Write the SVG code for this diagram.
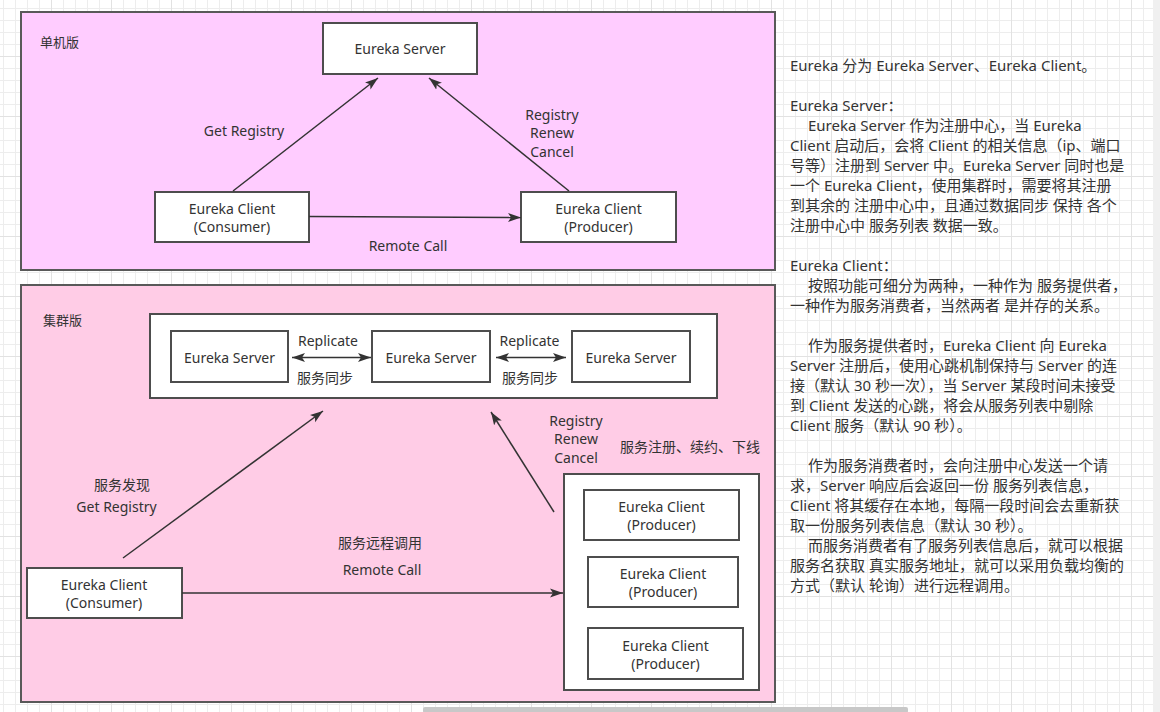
<svg xmlns="http://www.w3.org/2000/svg" width="1160" height="712" viewBox="0 0 1160 712">
<defs>
<pattern id="gridMinor" patternUnits="userSpaceOnUse" x="0" y="0" width="12" height="12">
<path d="M3.5,0 V12 M0,8.5 H12" stroke="#ededed" stroke-width="1" fill="none"/>
</pattern>
<pattern id="gridMajor" patternUnits="userSpaceOnUse" x="0" y="0" width="60" height="60">
<path d="M51.5,0 V60 M0,56.5 H60" stroke="#e2e2e2" stroke-width="1" fill="none"/>
</pattern>
<marker id="arr" markerUnits="userSpaceOnUse" markerWidth="14" markerHeight="10" viewBox="0 0 14 10" refX="13" refY="5" orient="auto-start-reverse">
<path d="M0,0.5 L13,5 L0,9.5 L3,5 z" fill="#333"/>
</marker>
<style>
.panel{stroke:#595959;stroke-width:2}
.node{fill:#fff;stroke:#4d4d4d;stroke-width:2}
.t{font-family:"Noto Sans","Noto Sans CJK SC",sans-serif;font-size:14px;fill:#333;text-anchor:middle;dominant-baseline:central}
.lbl{font-family:"Noto Sans","Noto Sans CJK SC",sans-serif;font-size:13px;fill:#333;dominant-baseline:central}
.conn{stroke:#333;stroke-width:1.5;fill:none}
.doc{font-family:"Noto Sans","Noto Sans CJK SC",sans-serif;font-size:15px;fill:#333;dominant-baseline:central}
</style>
</defs>
<rect x="0" y="0" width="1160" height="712" fill="#fff"/>
<rect x="0" y="0" width="1160" height="712" fill="url(#gridMinor)"/>
<rect x="0" y="0" width="1160" height="712" fill="url(#gridMajor)"/>
<rect x="1153" y="0" width="7" height="712" fill="#f0f0f0"/>
<rect x="423" y="707" width="485" height="6" rx="2" fill="#c8c8c8"/>

<g id="panel-single">
<rect class="panel" x="21" y="12" width="754" height="258" fill="#ffccff"/>
<text class="lbl" x="40" y="42">单机版</text>
</g>
<g id="panel-cluster">
<rect class="panel" x="21" y="285" width="754" height="417" fill="#ffcce6"/>
<text class="lbl" x="43" y="320">集群版</text>
</g>

<g id="s-server">
<rect class="node" x="323" y="23" width="154" height="51"/>
<text class="t" x="400" y="48.5">Eureka Server</text>
</g>
<g id="s-consumer">
<rect class="node" x="155" y="192" width="154" height="50"/>
<text class="t" x="232" y="208">Eureka Client</text>
<text class="t" x="232" y="226">(Consumer)</text>
</g>
<g id="s-producer">
<rect class="node" x="521" y="192" width="155" height="50"/>
<text class="t" x="598.5" y="208">Eureka Client</text>
<text class="t" x="598.5" y="226">(Producer)</text>
</g>

<g id="c-servers">
<rect class="node" x="150" y="314" width="567" height="84"/>
</g>
<g id="c-server1">
<rect class="node" x="171" y="331" width="117" height="51"/>
<text class="t" x="229.5" y="357">Eureka Server</text>
</g>
<g id="c-server2">
<rect class="node" x="372" y="331" width="118" height="51"/>
<text class="t" x="431" y="357">Eureka Server</text>
</g>
<g id="c-server3">
<rect class="node" x="572" y="331" width="118" height="51"/>
<text class="t" x="631" y="357">Eureka Server</text>
</g>
<g id="c-consumer">
<rect class="node" x="27" y="568" width="155" height="50"/>
<text class="t" x="104" y="584">Eureka Client</text>
<text class="t" x="104" y="602">(Consumer)</text>
</g>
<g id="c-producers">
<rect class="node" x="564" y="474" width="195" height="216"/>
</g>
<g id="c-producer1">
<rect class="node" x="584" y="490" width="155" height="50"/>
<text class="t" x="661.5" y="506">Eureka Client</text>
<text class="t" x="661.5" y="524">(Producer)</text>
</g>
<g id="c-producer2">
<rect class="node" x="588" y="557" width="150" height="50"/>
<text class="t" x="663" y="573">Eureka Client</text>
<text class="t" x="663" y="591">(Producer)</text>
</g>
<g id="c-producer3">
<rect class="node" x="588" y="628" width="155" height="51"/>
<text class="t" x="665.5" y="645">Eureka Client</text>
<text class="t" x="665.5" y="663">(Producer)</text>
</g>

<g id="connectors">
<line class="conn" x1="233" y1="191" x2="378" y2="78" marker-end="url(#arr)"/>
<line class="conn" x1="569" y1="191" x2="429" y2="78" marker-end="url(#arr)"/>
<line class="conn" x1="309" y1="216.5" x2="521" y2="217.5" marker-end="url(#arr)"/>
<line class="conn" x1="292" y1="357.5" x2="371" y2="357.5" marker-start="url(#arr)" marker-end="url(#arr)"/>
<line class="conn" x1="496" y1="357.5" x2="566" y2="357.5" marker-start="url(#arr)" marker-end="url(#arr)"/>
<line class="conn" x1="123" y1="558" x2="323" y2="411" marker-end="url(#arr)"/>
<line class="conn" x1="554" y1="512" x2="491" y2="412" marker-end="url(#arr)"/>
<line class="conn" x1="182" y1="593" x2="563" y2="593" marker-end="url(#arr)"/>
<text class="t" x="244" y="130">Get Registry</text>
<text class="t" x="552" y="114">Registry</text>
<text class="t" x="552" y="132.5">Renew</text>
<text class="t" x="552" y="151">Cancel</text>
<text class="t" x="408" y="245">Remote Call</text>
<text class="t" x="328" y="340">Replicate</text>
<text class="t" x="325" y="377">服务同步</text>
<text class="t" x="529.5" y="340">Replicate</text>
<text class="t" x="530" y="377">服务同步</text>
<text class="t" x="122" y="484">服务发现</text>
<text class="t" x="116.5" y="506">Get Registry</text>
<text class="t" x="380" y="542">服务远程调用</text>
<text class="t" x="382" y="569">Remote Call</text>
<text class="t" x="576" y="420">Registry</text>
<text class="t" x="576" y="438.5">Renew</text>
<text class="t" x="576" y="457">Cancel</text>
<text class="t" x="690" y="446">服务注册、续约、下线</text>
</g>

<g id="description">
<text class="doc" x="790" y="65">Eureka 分为 Eureka Server、Eureka Client。</text>
<text class="doc" x="790" y="105">Eureka Server：</text>
<text class="doc" x="808" y="125">Eureka Server 作为注册中心，当 Eureka</text>
<text class="doc" x="790" y="145">Client 启动后，会将 Client 的相关信息（ip、端口</text>
<text class="doc" x="790" y="165">号等）注册到 Server 中。Eureka Server 同时也是</text>
<text class="doc" x="790" y="185">一个 Eureka Client，使用集群时，需要将其注册</text>
<text class="doc" x="790" y="205">到其余的 注册中心中，且通过数据同步 保持 各个</text>
<text class="doc" x="790" y="225">注册中心中 服务列表 数据一致。</text>
<text class="doc" x="790" y="265">Eureka Client：</text>
<text class="doc" x="808" y="285">按照功能可细分为两种，一种作为 服务提供者，</text>
<text class="doc" x="790" y="305">一种作为服务消费者，当然两者 是并存的关系。</text>
<text class="doc" x="808" y="345">作为服务提供者时，Eureka Client 向 Eureka</text>
<text class="doc" x="790" y="365">Server 注册后，使用心跳机制保持与 Server 的连</text>
<text class="doc" x="790" y="385">接（默认 30 秒一次），当 Server 某段时间未接受</text>
<text class="doc" x="790" y="405">到 Client 发送的心跳，将会从服务列表中剔除</text>
<text class="doc" x="790" y="425">Client 服务（默认 90 秒）。</text>
<text class="doc" x="808" y="465">作为服务消费者时，会向注册中心发送一个请</text>
<text class="doc" x="790" y="485">求，Server 响应后会返回一份 服务列表信息，</text>
<text class="doc" x="790" y="505">Client 将其缓存在本地，每隔一段时间会去重新获</text>
<text class="doc" x="790" y="525">取一份服务列表信息（默认 30 秒）。</text>
<text class="doc" x="808" y="545">而服务消费者有了服务列表信息后，就可以根据</text>
<text class="doc" x="790" y="565">服务名获取 真实服务地址，就可以采用负载均衡的</text>
<text class="doc" x="790" y="585">方式（默认 轮询）进行远程调用。</text>
</g>
</svg>
